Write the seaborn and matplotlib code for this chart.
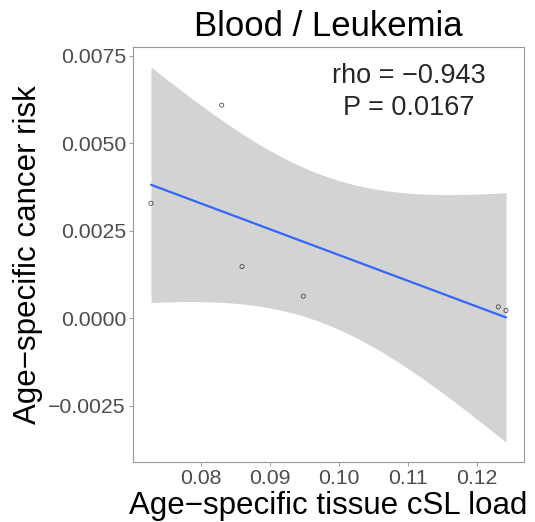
import numpy as np
import pandas as pd
import matplotlib
matplotlib.use("Agg")
import matplotlib.pyplot as plt
import seaborn as sns

# Tissue cSL load vs. age-specific cancer risk (blood / leukemia)
csl_load = [0.07275, 0.0830, 0.08594, 0.09483, 0.12309, 0.1242]
cancer_risk = [0.003286, 0.006094, 0.001477, 0.000629, 0.000323, 0.00022]
title = "Blood / Leukemia"
rho_label = "rho = \u22120.943"
p_label = "P = 0.0167"
x_ticks = [0.08, 0.09, 0.10, 0.11, 0.12]
y_ticks = [-0.0025, 0.0, 0.0025, 0.0050, 0.0075]

df = pd.DataFrame({"load": csl_load, "risk": cancer_risk})

sns.set_style("white")
plt.rcParams["font.family"] = ["Liberation Sans", "DejaVu Sans"]

fig = plt.figure(figsize=(5.35, 5.22), dpi=100)
ax = fig.add_axes([0.2486, 0.1149, 0.7308, 0.7951])

# 95% confidence band of the least-squares fit (t-based, df = n - 2)
x = df["load"].to_numpy()
y = df["risk"].to_numpy()
n = len(x)
slope, intercept = np.polyfit(x, y, 1)
resid = y - (slope * x + intercept)
s = np.sqrt(np.sum(resid ** 2) / (n - 2))
xs = np.linspace(x.min(), x.max(), 200)
se = s * np.sqrt(1.0 / n + (xs - x.mean()) ** 2 / np.sum((x - x.mean()) ** 2))
t_crit = 2.776445  # t quantile 0.975, df = 4
fit = slope * xs + intercept
ax.fill_between(xs, fit - t_crit * se, fit + t_crit * se, color="#D3D3D3",
                linewidth=0, zorder=1)

sns.regplot(data=df, x="load", y="risk", ax=ax, ci=None, truncate=True,
            scatter_kws=dict(s=9, facecolors="none", edgecolors="black",
                             linewidths=0.5, zorder=3),
            line_kws=dict(color="#3366FF", linewidth=1.6, zorder=2))

ax.set_xlim(0.07014, 0.12681)
ax.set_ylim(-0.004114, 0.007757)
ax.set_xticks(x_ticks)
ax.set_xticklabels([f"{v:.2f}" for v in x_ticks])
ax.set_yticks(y_ticks)
ax.set_yticklabels([f"{v:.4f}".replace("-", "\u2212") for v in y_ticks])

ax.tick_params(axis="both", which="major", length=3, width=0.6,
               color="#8C8C8C", labelsize=15.3, labelcolor="#4D4D4D",
               direction="out", pad=2, bottom=True, left=True)
for sp in ax.spines.values():
    sp.set_color("#9A9A9A")
    sp.set_linewidth(0.8)

ax.set_xlabel("Age\u2212specific tissue cSL load", fontsize=22.5, color="black",
              labelpad=2)
ax.set_ylabel("Age\u2212specific cancer risk", fontsize=22.5, color="black",
              labelpad=4)
ax.set_title(title, fontsize=25, color="black", pad=8)

ax.text(0.1101, 0.00694, rho_label, fontsize=19.5, ha="center", va="center")
ax.text(0.1101, 0.0060, p_label, fontsize=19.5, ha="center", va="center")

fig.savefig("out.png", dpi=100)
